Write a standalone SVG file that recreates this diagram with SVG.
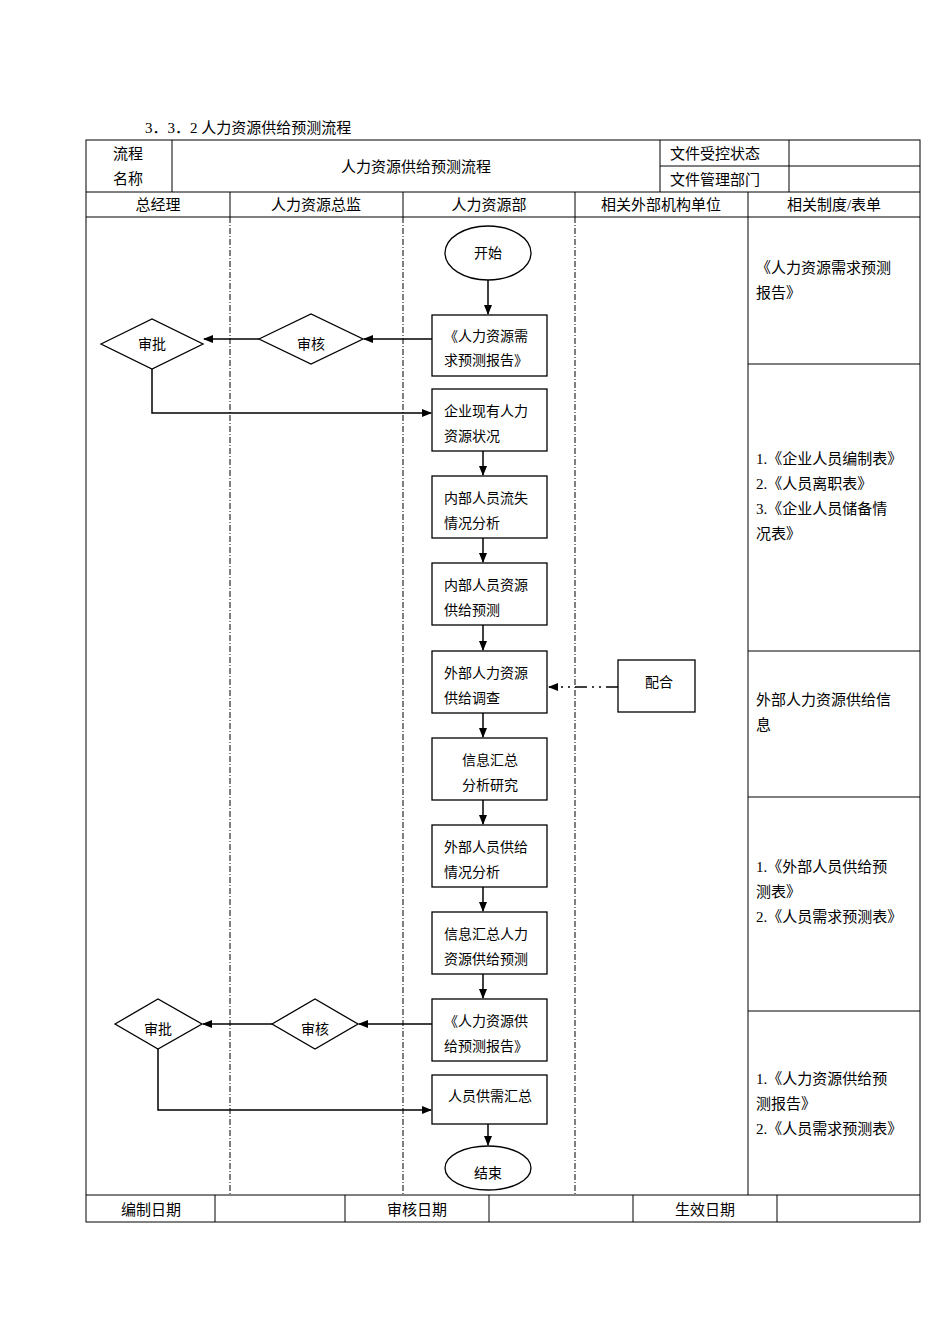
<svg xmlns="http://www.w3.org/2000/svg" width="950" height="1344" viewBox="0 0 950 1344">
<style>
text{font-family:"Liberation Serif","Noto Sans CJK SC",serif;font-size:15px;fill:#000}
.s{font-size:14px}
.b{fill:#fff;stroke:#000;stroke-width:1.3}
.l{stroke:#000;stroke-width:1;fill:none}
.d{stroke:#000;stroke-width:1;stroke-dasharray:6,2,1,2;fill:none}
.c{stroke:#000;stroke-width:1.5;fill:none;marker-end:url(#a)}
</style>
<defs><marker id="a" markerWidth="10" markerHeight="8" refX="9" refY="4" orient="auto" markerUnits="userSpaceOnUse"><path d="M0,0L10,4L0,8z" fill="#000"/></marker></defs>
<rect width="950" height="1344" fill="#fff"/>
<text x="145" y="133">3．3．2 人力资源供给预测流程</text>
<g id="table">
<rect x="86" y="140" width="834" height="1082" class="l"/>
<path class="l" d="M172 140V192M660 140V192M789 140V192M660 166H920M86 192H920M86 217H920M748 192V1195M748 364H920M748 651H920M748 797H920M748 1011H920M86 1195H920M215 1195V1222M345 1195V1222M489 1195V1222M633 1195V1222M777 1195V1222M230 192V217M403 192V217M575 192V217"/>
<path class="d" d="M230 217V1195M403 217V1195M575 217V1195"/>
<text x="113" y="159">流程</text><text x="113" y="184">名称</text>
<text x="416" y="172" text-anchor="middle">人力资源供给预测流程</text>
<text x="670" y="159">文件受控状态</text><text x="670" y="185">文件管理部门</text>
<text x="158" y="210" text-anchor="middle">总经理</text>
<text x="316" y="210" text-anchor="middle">人力资源总监</text>
<text x="489" y="210" text-anchor="middle">人力资源部</text>
<text x="661" y="210" text-anchor="middle">相关外部机构单位</text>
<text x="834" y="210" text-anchor="middle">相关制度/表单</text>
<text x="756" y="273">《人力资源需求预测</text><text x="756" y="298">报告》</text>
<text x="756" y="464">1.《企业人员编制表》</text><text x="756" y="489">2.《人员离职表》</text><text x="756" y="514">3.《企业人员储备情</text><text x="756" y="539">况表》</text>
<text x="756" y="705">外部人力资源供给信</text><text x="756" y="730">息</text>
<text x="756" y="872">1.《外部人员供给预</text><text x="756" y="897">测表》</text><text x="756" y="922">2.《人员需求预测表》</text>
<text x="756" y="1084">1.《人力资源供给预</text><text x="756" y="1109">测报告》</text><text x="756" y="1134">2.《人员需求预测表》</text>
<text x="151" y="1215" text-anchor="middle">编制日期</text>
<text x="417" y="1215" text-anchor="middle">审核日期</text>
<text x="705" y="1215" text-anchor="middle">生效日期</text>
</g>
<g id="connectors">
<path class="c" d="M488 280V314"/>
<path class="c" d="M432 339H364"/>
<path class="c" d="M259 339H204"/>
<path class="c" d="M152 369V413H431"/>
<path class="c" d="M483 451V475"/>
<path class="c" d="M483 538V562"/>
<path class="c" d="M483 625V650"/>
<path class="c" d="M483 713V737"/>
<path class="c" d="M483 800V824"/>
<path class="c" d="M483 887V911"/>
<path class="c" d="M483 974V998"/>
<path class="c" d="M432 1024H359"/>
<path class="c" d="M272 1024H203"/>
<path class="c" d="M158 1049V1110H431"/>
<path class="c" d="M488 1124V1145"/>
<path d="M618 687H549" stroke="#000" stroke-width="1.5" stroke-dasharray="12,5,2,5,2,5" fill="none" marker-end="url(#a)"/>
</g>
<g id="start"><ellipse cx="488" cy="253" rx="43" ry="27" class="b"/><text class="s" x="488" y="258" text-anchor="middle">开始</text></g>
<g id="n1"><rect x="432" y="315" width="115" height="61" class="b"/><text class="s" x="444" y="341">《人力资源需</text><text class="s" x="444" y="365">求预测报告》</text></g>
<g id="d1"><polygon points="101,344 152,319 203,344 152,369" class="b"/><text class="s" x="152" y="349" text-anchor="middle">审批</text></g>
<g id="d2"><polygon points="259,339 311,314 363,339 311,364" class="b"/><text class="s" x="311" y="349" text-anchor="middle">审核</text></g>
<g id="n2"><rect x="432" y="389" width="115" height="62" class="b"/><text class="s" x="444" y="416">企业现有人力</text><text class="s" x="444" y="441">资源状况</text></g>
<g id="n3"><rect x="432" y="476" width="115" height="62" class="b"/><text class="s" x="444" y="503">内部人员流失</text><text class="s" x="444" y="528">情况分析</text></g>
<g id="n4"><rect x="432" y="563" width="115" height="62" class="b"/><text class="s" x="444" y="590">内部人员资源</text><text class="s" x="444" y="615">供给预测</text></g>
<g id="n5"><rect x="432" y="651" width="115" height="62" class="b"/><text class="s" x="444" y="678">外部人力资源</text><text class="s" x="444" y="703">供给调查</text></g>
<g id="coop"><rect x="618" y="660" width="77" height="52" class="b"/><text class="s" x="659" y="687" text-anchor="middle">配合</text></g>
<g id="n6"><rect x="432" y="738" width="115" height="62" class="b"/><text class="s" x="490" y="765" text-anchor="middle">信息汇总</text><text class="s" x="490" y="790" text-anchor="middle">分析研究</text></g>
<g id="n7"><rect x="432" y="825" width="115" height="62" class="b"/><text class="s" x="444" y="852">外部人员供给</text><text class="s" x="444" y="877">情况分析</text></g>
<g id="n8"><rect x="432" y="912" width="115" height="62" class="b"/><text class="s" x="444" y="939">信息汇总人力</text><text class="s" x="444" y="964">资源供给预测</text></g>
<g id="n9"><rect x="432" y="999" width="115" height="62" class="b"/><text class="s" x="444" y="1026">《人力资源供</text><text class="s" x="444" y="1051">给预测报告》</text></g>
<g id="d3"><polygon points="115,1024 158,999 202,1024 158,1049" class="b"/><text class="s" x="158" y="1034" text-anchor="middle">审批</text></g>
<g id="d4"><polygon points="272,1024 315,999 358,1024 315,1049" class="b"/><text class="s" x="315" y="1034" text-anchor="middle">审核</text></g>
<g id="n10"><rect x="432" y="1075" width="115" height="49" class="b"/><text class="s" x="490" y="1101" text-anchor="middle">人员供需汇总</text></g>
<g id="end"><ellipse cx="488" cy="1168" rx="43" ry="22" class="b"/><text class="s" x="488" y="1178" text-anchor="middle">结束</text></g>
</svg>
